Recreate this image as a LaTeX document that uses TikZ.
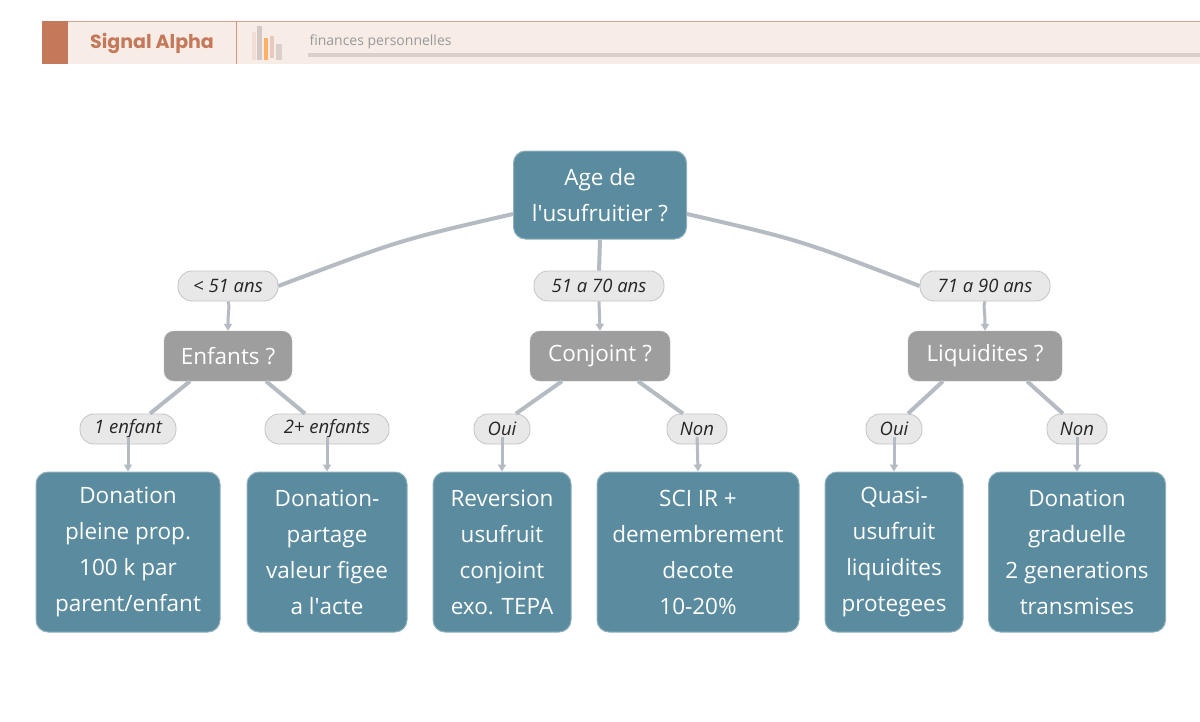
\documentclass[tikz,border=0pt]{standalone}
\usepackage{fontspec}
\setmainfont{Open Sans}
\newfontfamily\pop{Poppins}
\usetikzlibrary{arrows.meta}
\definecolor{teal}{HTML}{5B8B9E}
\definecolor{tealb}{HTML}{8FB0BD}
\definecolor{gq}{HTML}{9E9E9E}
\definecolor{lab}{HTML}{E8E8E8}
\definecolor{labb}{HTML}{C4C4C4}
\definecolor{edge}{HTML}{B5BBC2}
\definecolor{hdr}{HTML}{F7ECE6}
\definecolor{rust}{HTML}{C47A5A}
\begin{document}
\begin{tikzpicture}[x=1pt,y=-1pt,
 leaf/.style={rounded corners=12pt,fill=teal,draw=tealb,line width=1pt,text=white,align=center,font=\fontsize{22.5}{36}\selectfont,minimum height=160pt,inner sep=0pt},
 q/.style={rounded corners=10pt,fill=gq,draw=gq!80!white,text=white,font=\fontsize{22.5}{26}\selectfont,minimum height=50pt,inner sep=0pt},
 lb/.style={rounded corners=14pt,fill=lab,draw=labb,line width=0.8pt,text=black!85,font=\itshape\fontsize{18.5}{20}\selectfont,minimum height=30pt,inner sep=0pt},
 e/.style={draw=edge,line width=4pt},
 a/.style={draw=edge,line width=3pt,-{Triangle[length=7pt,width=8pt]}}]
\useasboundingbox (0,0) rectangle (1200,721);
\fill[white] (0,0) rectangle (1200,721);
% header
\fill[hdr] (42,21) rectangle (1200,64);
\draw[rust!70,line width=0.8pt] (42,21) -- (1200,21);
\fill[rust] (42,21) rectangle (68,64);
\draw[rust!80,line width=0.8pt] (236,21) -- (236,64);
\node[font=\pop\bfseries\fontsize{19}{20}\selectfont,text=rust,anchor=center] (brand) at (152,43) {Signal Alpha};
\fill[rust!25] (252,32) rectangle (256,60);
\fill[black!15!hdr] (257,26) rectangle (262,60);
\fill[orange!60] (264,38) rectangle (268,60);
\fill[rust!40] (270,36) rectangle (274,58);
\fill[black!12!hdr] (276,44) rectangle (282,60);
\node[font=\fontsize{14}{16}\selectfont,text=black!40,anchor=west] (sub) at (306,42) {finances personnelles};
\fill[black!12!hdr] (308,53) rectangle (1200,57);
% nodes
\node[rounded corners=12pt,fill=teal,draw=tealb,line width=1pt,text=white,align=center,font=\fontsize{22.5}{36}\selectfont,minimum width=173pt,minimum height=88pt,inner sep=0pt] (root) at (600,195) {Age de\\l\textquotesingle usufruitier ?};
\node[lb,minimum width=100pt] (l1) at (228,286) {< 51 ans};
\node[lb,minimum width=130pt] (l2) at (599,286) {51 a 70 ans};
\node[lb,minimum width=130pt] (l3) at (985,286) {71 a 90 ans};
\node[q,minimum width=128pt] (q1) at (228,356) {Enfants ?};
\node[q,minimum width=140pt] (q2) at (600,356) {Conjoint ?};
\node[q,minimum width=154pt] (q3) at (985,356) {Liquidites ?};
\node[lb,minimum width=96pt] (m1) at (128,429) {1 enfant};
\node[lb,minimum width=124pt] (m2) at (327,429) {2+ enfants};
\node[lb,minimum width=56pt] (m3) at (502,429) {Oui};
\node[lb,minimum width=60pt] (m4) at (697,429) {Non};
\node[lb,minimum width=56pt] (m5) at (894,429) {Oui};
\node[lb,minimum width=60pt] (m6) at (1077,429) {Non};
\node[leaf,minimum width=184pt] (f1) at (128,552) {Donation\\pleine prop.\\100 k par\\parent/enfant};
\node[leaf,minimum width=160pt] (f2) at (327,552) {Donation-\\partage\\valeur figee\\a l\textquotesingle acte};
\node[leaf,minimum width=138pt] (f3) at (502,552) {Reversion\\usufruit\\conjoint\\exo. TEPA};
\node[leaf,minimum width=202pt] (f4) at (698,552) {SCI IR +\\demembrement\\decote\\10-20\%};
\node[leaf,minimum width=138pt] (f5) at (894,552) {Quasi-\\usufruit\\liquidites\\protegees};
\node[leaf,minimum width=177pt] (f6) at (1077,552) {Donation\\graduelle\\2 generations\\transmises};
% edges
\draw[e] (root.west|-600,214) .. controls (400,240) .. (l1.east);
\draw[e] (root.south) -- (l2.north);
\draw[e] (root.east|-600,214) .. controls (800,240) .. (l3.west);
\draw[a] (l1.south) .. controls (230,306) and (228,310) .. (q1.north);
\draw[a] (l2.south) -- (q2.north);
\draw[a] (l3.south) .. controls (983,306) and (985,310) .. (q3.north);
\draw[e] ([xshift=-38pt]q1.south) -- ([xshift=22pt]m1.north);
\draw[e] ([xshift=38pt]q1.south) -- ([xshift=-22pt]m2.north);
\draw[e] ([xshift=-38pt]q2.south) -- ([xshift=14pt]m3.north);
\draw[e] ([xshift=38pt]q2.south) -- ([xshift=-14pt]m4.north);
\draw[e] ([xshift=-42pt]q3.south) -- ([xshift=14pt]m5.north);
\draw[e] ([xshift=42pt]q3.south) -- ([xshift=-14pt]m6.north);
\foreach \m/\f in {m1/f1,m2/f2,m3/f3,m4/f4,m5/f5,m6/f6}
  \draw[a] (\m.south) .. controls ([yshift=12pt]\m.south) .. (\f.north);
\end{tikzpicture}
\end{document}
